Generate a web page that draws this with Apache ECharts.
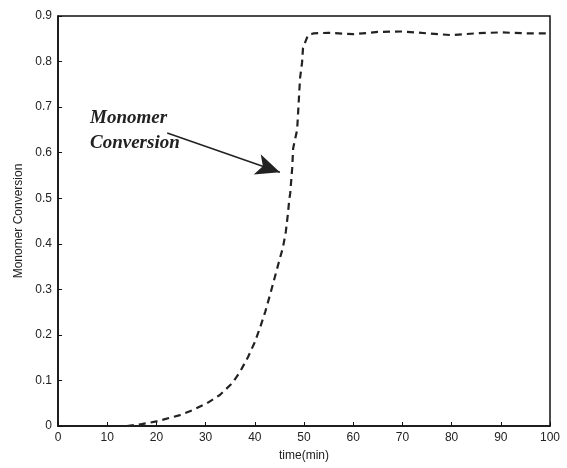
<!DOCTYPE html>
<html>
<head>
<meta charset="utf-8">
<script src="https://cdn.jsdelivr.net/npm/echarts@6/dist/echarts.min.js"></script>
<style>
  html, body { margin: 0; padding: 0; background: #fff; }
  #main { width: 567px; height: 468px; }
</style>
</head>
<body>
<div id="main"></div>
<script>
// time (min) and monomer conversion
const timeMin = [14, 17, 20, 24.8, 27.4, 30.3, 32.9, 35.4, 37, 38.6, 40, 41.1, 42.1, 43.1, 43.9, 44.9, 45.7, 46.3, 46.7, 47,
  47.2, 47.6, 47.8, 48.6, 48.8, 49.2, 49.6, 49.8, 50.8, 52, 55, 60, 65, 70, 75, 80, 85, 90, 95, 100]
const conversion = [0, 0.004, 0.01, 0.024, 0.035, 0.05, 0.068, 0.094, 0.119, 0.151, 0.184, 0.217, 0.25, 0.288, 0.32, 0.36, 0.391, 0.426, 0.463, 0.496,
  0.511, 0.566, 0.61, 0.65, 0.687, 0.764, 0.797, 0.83, 0.858, 0.862, 0.863, 0.86, 0.865, 0.866, 0.862, 0.858, 0.862, 0.864, 0.862, 0.862]
// annotation arrow, in data units
const arrowFrom = [22.2, 0.643]
const arrowTo = [45.1, 0.557]

const chartDom = document.getElementById("main")
const myChart = echarts.init(chartDom)
const axisFont = { color: "#222", fontFamily: "Liberation Sans, Arial", fontSize: 12 }

const option = {
  animation: false,
  grid: {
    left: 58, right: 17, top: 16, bottom: 42,
    show: true, borderColor: "#111", borderWidth: 1.5
  },
  xAxis: {
    type: "value",
    min: 0, max: 100, interval: 10,
    name: "time(min)",
    nameLocation: "middle",
    nameGap: 24,
    nameTextStyle: axisFont,
    axisLine: { show: true, lineStyle: { color: "#111", width: 1.5 } },
    axisTick: { inside: true, length: 4, lineStyle: { color: "#111" } },
    axisLabel: Object.assign({ margin: 6 }, axisFont),
    splitLine: { show: false }
  },
  yAxis: {
    type: "value",
    min: 0, max: 0.9, interval: 0.1,
    name: "Monomer Conversion",
    nameLocation: "middle",
    nameGap: 32,
    nameTextStyle: axisFont,
    axisLine: { show: true, lineStyle: { color: "#111", width: 1.5 } },
    axisTick: { inside: true, length: 4, lineStyle: { color: "#111" } },
    axisLabel: Object.assign({ margin: 6, formatter: v => String(+v.toFixed(1)) }, axisFont),
    splitLine: { show: false }
  },
  graphic: [
    {
      type: "text", left: 90, top: 106,
      style: {
        text: "Monomer\nConversion",
        font: "italic bold 19px 'Liberation Serif', 'Times New Roman', serif",
        fill: "#222",
        lineHeight: 25
      }
    }
  ],
  series: [
    {
      name: "Monomer Conversion",
      type: "line",
      data: timeMin.map((t, i) => [t, conversion[i]]),
      showSymbol: false,
      smooth: false,
      lineStyle: { color: "#222", width: 2.2, type: [7, 5] },
      markLine: {
        silent: true,
        symbol: ["none", "arrow"],
        symbolSize: [16, 24],
        label: { show: false },
        lineStyle: { color: "#222", width: 1.6, type: "solid" },
        data: [[{ coord: arrowFrom }, { coord: arrowTo }]]
      }
    }
  ]
}

myChart.setOption(option)
</script>
</body>
</html>
